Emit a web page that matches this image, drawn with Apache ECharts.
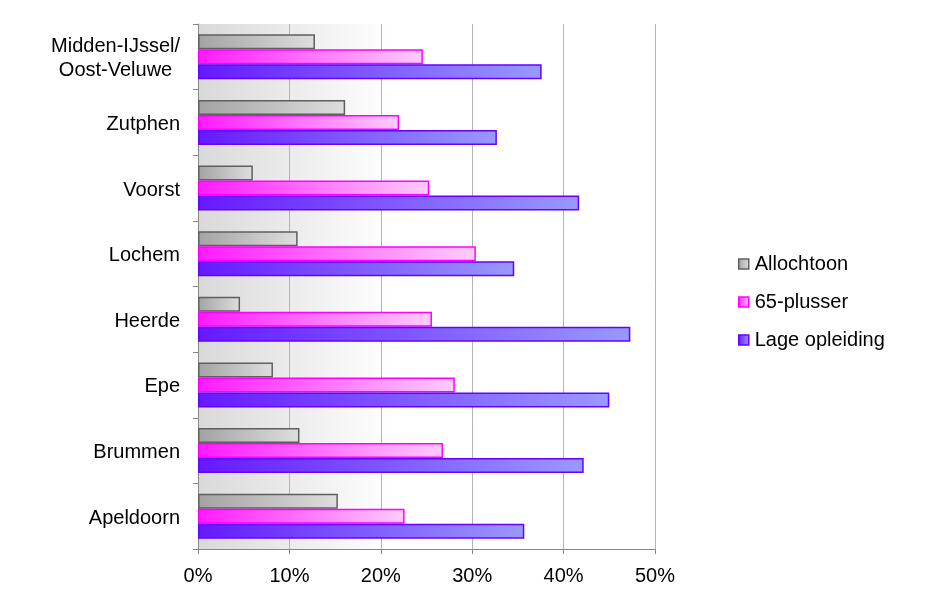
<!DOCTYPE html>
<html><head><meta charset="utf-8">
<script src="https://cdn.jsdelivr.net/npm/echarts@6/dist/echarts.min.js"></script>
<style>html,body{margin:0;padding:0;background:#fff}#c{width:945px;height:602px}</style>
</head><body><div id="c"></div>
<script>
var categories = ['Midden-IJssel/\nOost-Veluwe','Zutphen','Voorst','Lochem','Heerde','Epe','Brummen','Apeldoorn'];
var allochtoon = [12.8, 16.1, 6.0, 10.9, 4.6, 8.2, 11.1, 15.3];
var plusser65 = [24.6, 22.0, 25.3, 30.4, 25.6, 28.1, 26.8, 22.6];
var lageOpleiding = [37.6, 32.7, 41.7, 34.6, 47.3, 45.0, 42.2, 35.7];
var seriesNames = ['Allochtoon','65-plusser','Lage opleiding'];
var xTicks = [0,10,20,30,40,50];

function grad(a,b){return new echarts.graphic.LinearGradient(0,0,1,0,[{offset:0,color:a},{offset:1,color:b}]);}
var fills = [grad('#a3a3a3','#dedede'), grad('#ff1aff','#ffccff'), grad('#6619ff','#9999ff')];
var borders = ['#5f5f5f','#ff00ff','#6600ff'];
var datas = [allochtoon, plusser65, lageOpleiding];
var font = '"Liberation Sans", Arial, sans-serif';

var chart = echarts.init(document.getElementById('c'), null, {renderer:'canvas'});
chart.setOption({
  animation:false,
  textStyle:{fontFamily:font},
  grid:{left:198,right:290,top:24,bottom:53,show:true,borderWidth:0,
    backgroundColor:new echarts.graphic.LinearGradient(0,0,1,0,[{offset:0,color:'#d9d9d9'},{offset:0.42,color:'#ffffff'},{offset:1,color:'#ffffff'}])},
  legend:{orient:'vertical',left:733,top:249,itemWidth:10,itemHeight:10,itemGap:18,
    textStyle:{fontSize:20,color:'#000',fontFamily:font,padding:[0,0,0,1]},
    data:seriesNames.map(function(n,i){return {name:n,icon:'rect',itemStyle:{color:fills[i],borderColor:borders[i],borderWidth:1.5}};})},
  xAxis:{type:'value',min:0,max:50,interval:10,
    axisLine:{show:true,lineStyle:{color:'#868686',width:1}},
    axisTick:{show:true,length:5,lineStyle:{color:'#868686'}},
    splitLine:{show:true,lineStyle:{color:'#b3b3b3',width:1}},
    axisLabel:{fontSize:20,color:'#000',margin:17,fontFamily:font,formatter:function(v){return v+'%';}}},
  yAxis:{type:'category',inverse:true,data:categories,
    axisLine:{show:true,lineStyle:{color:'#868686',width:1}},
    axisTick:{show:true,length:5,inside:false,lineStyle:{color:'#868686'}},
    axisLabel:{fontSize:20,color:'#000',margin:18,fontFamily:font,lineHeight:24,padding:[4,0,0,0],
      formatter:function(v){return v.split('\n').map(function(s){return '{c|'+s+'}';}).join('\n');},
      rich:{c:{fontSize:20,color:'#000',fontFamily:font,align:'center',lineHeight:24}}}},
  series:datas.map(function(d,i){return {name:seriesNames[i],type:'bar',data:d,barWidth:15,barGap:'0%',
    itemStyle:{color:fills[i],borderColor:borders[i],borderWidth:1.5}};})
});
</script></body></html>
